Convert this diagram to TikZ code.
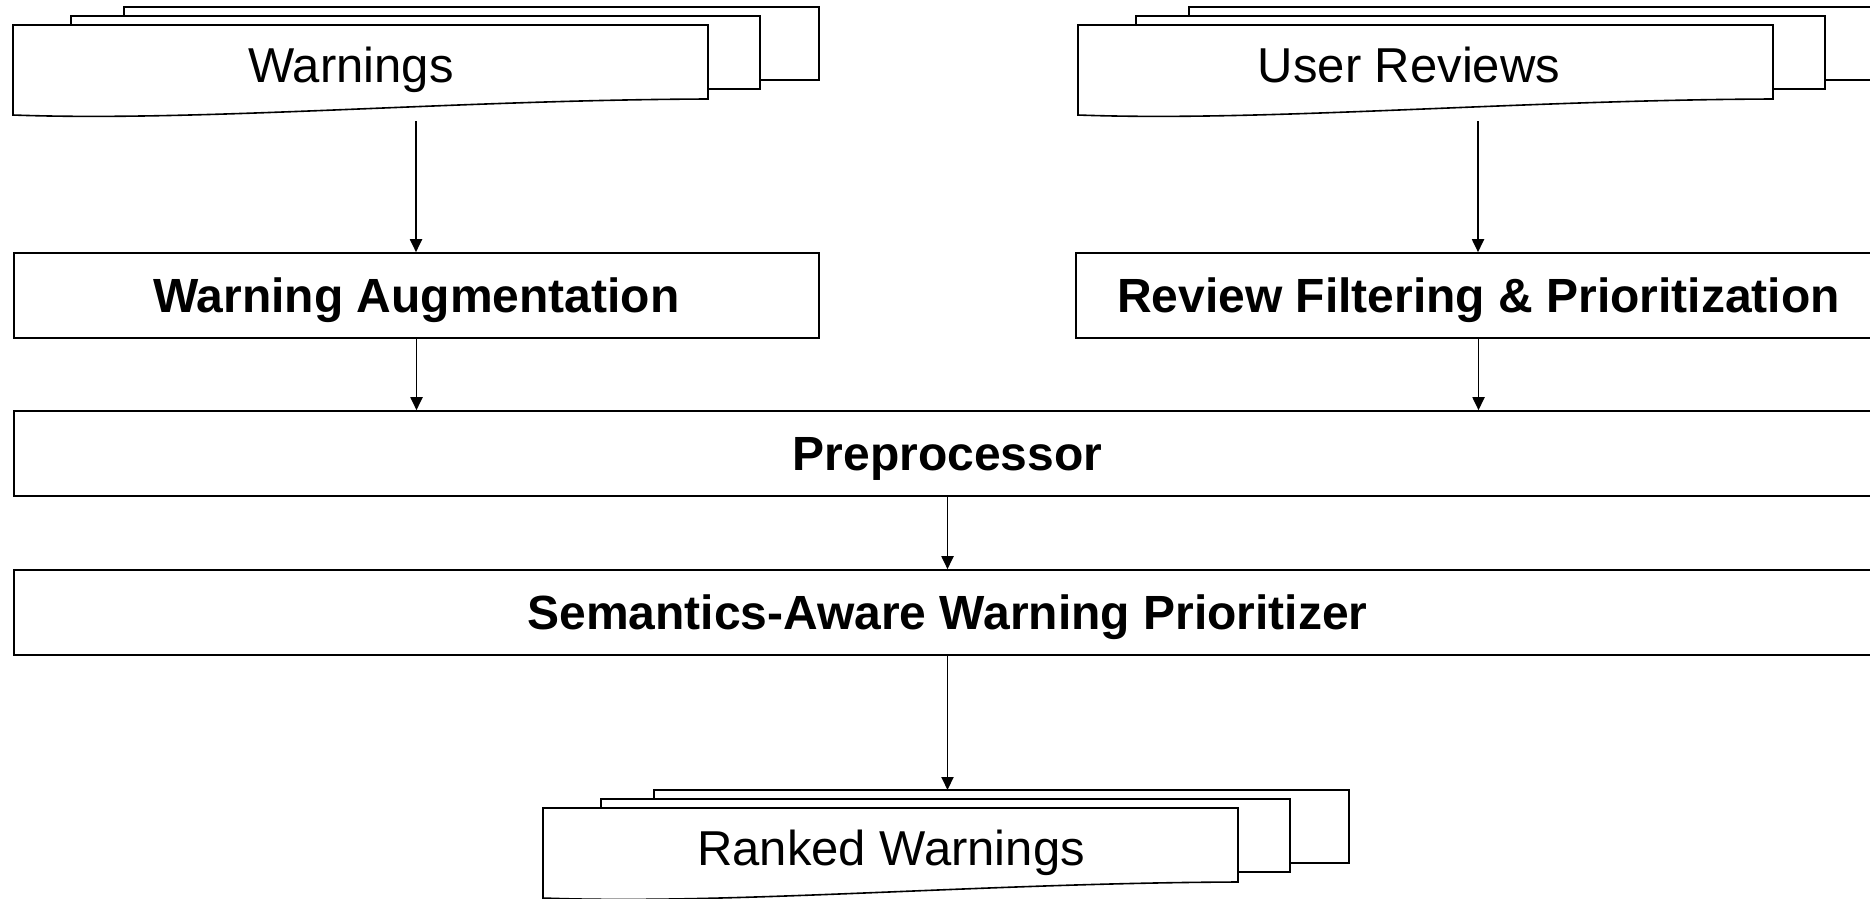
\documentclass[tikz,border=0pt]{standalone}
\usepackage{fontspec}
\setmainfont{Liberation Sans}
\usetikzlibrary{arrows.meta}
\tikzset{
  procbox/.style={draw, line width=1.6pt, minimum height=85pt, inner sep=0pt,
    text height=43pt, text depth=10pt,
    font=\fontsize{48}{56}\selectfont\bfseries},
  docpage/.style={draw, fill=white, line width=1.6pt, line join=miter},
  doclabel/.style={font=\fontsize{49}{56}\selectfont, inner sep=0pt,
    text height=43pt, text depth=10pt},
  arr/.style={line width=1.9pt, -{Triangle[length=13pt,width=12pt]}},
}
\newcommand\mdoc[5]{%
  \path[docpage] ({#1+111},{#2-18}) rectangle ({#1+806},{#2+55});
  \path[docpage] ({#1+58},{#2-9}) rectangle ({#1+747},{#2+64});
  \path[docpage] (#1,#2) -- ({#1+695},#2) -- ({#1+695},{#2+74})
     .. controls ({#1+437},{#2+75}) and ({#1+187},{#2+97}) .. (#1,{#2+90}) -- cycle;
  \node[doclabel] (#3) at (#4,{#2+41}) {#5};
}
\begin{document}
\begin{tikzpicture}[x=1pt,y=-1pt]
\useasboundingbox (0,0) rectangle (1870,898);
\fill[white] (0,0) rectangle (1870,898);
\clip (0,0) rectangle (1870,898);

\mdoc{13}{25}{warn}{351}{Warnings}
\mdoc{1078}{25}{rev}{1409}{User Reviews}
\mdoc{543}{808}{rank}{891}{Ranked Warnings}

\coordinate (warn-b) at (416,121);
\coordinate (rev-b) at (1478,121);
\coordinate (rank-t) at (947,790);

\node[procbox, minimum width=805pt] (wa) at (416.5,295.5) {Warning Augmentation};
\node[procbox, minimum width=805pt] (rf) at (1478.5,295.5) {Review Filtering \& Prioritization};
\node[procbox, minimum width=1867pt] (pre) at (947.5,453.5) {Preprocessor};
\node[procbox, minimum width=1867pt] (sem) at (947.5,612.5) {Semantics-Aware Warning Prioritizer};

\draw[arr] (warn-b) -- (warn-b |- wa.north);
\draw[arr] (rev-b) -- (rev-b |- rf.north);
\draw[arr] (wa.south) -- (wa.south |- pre.north);
\draw[arr] (rf.south) -- (rf.south |- pre.north);
\draw[arr] (pre.south) -- (sem.north);
\draw[arr] (sem.south) -- (sem.south |- rank-t);
\end{tikzpicture}
\end{document}
